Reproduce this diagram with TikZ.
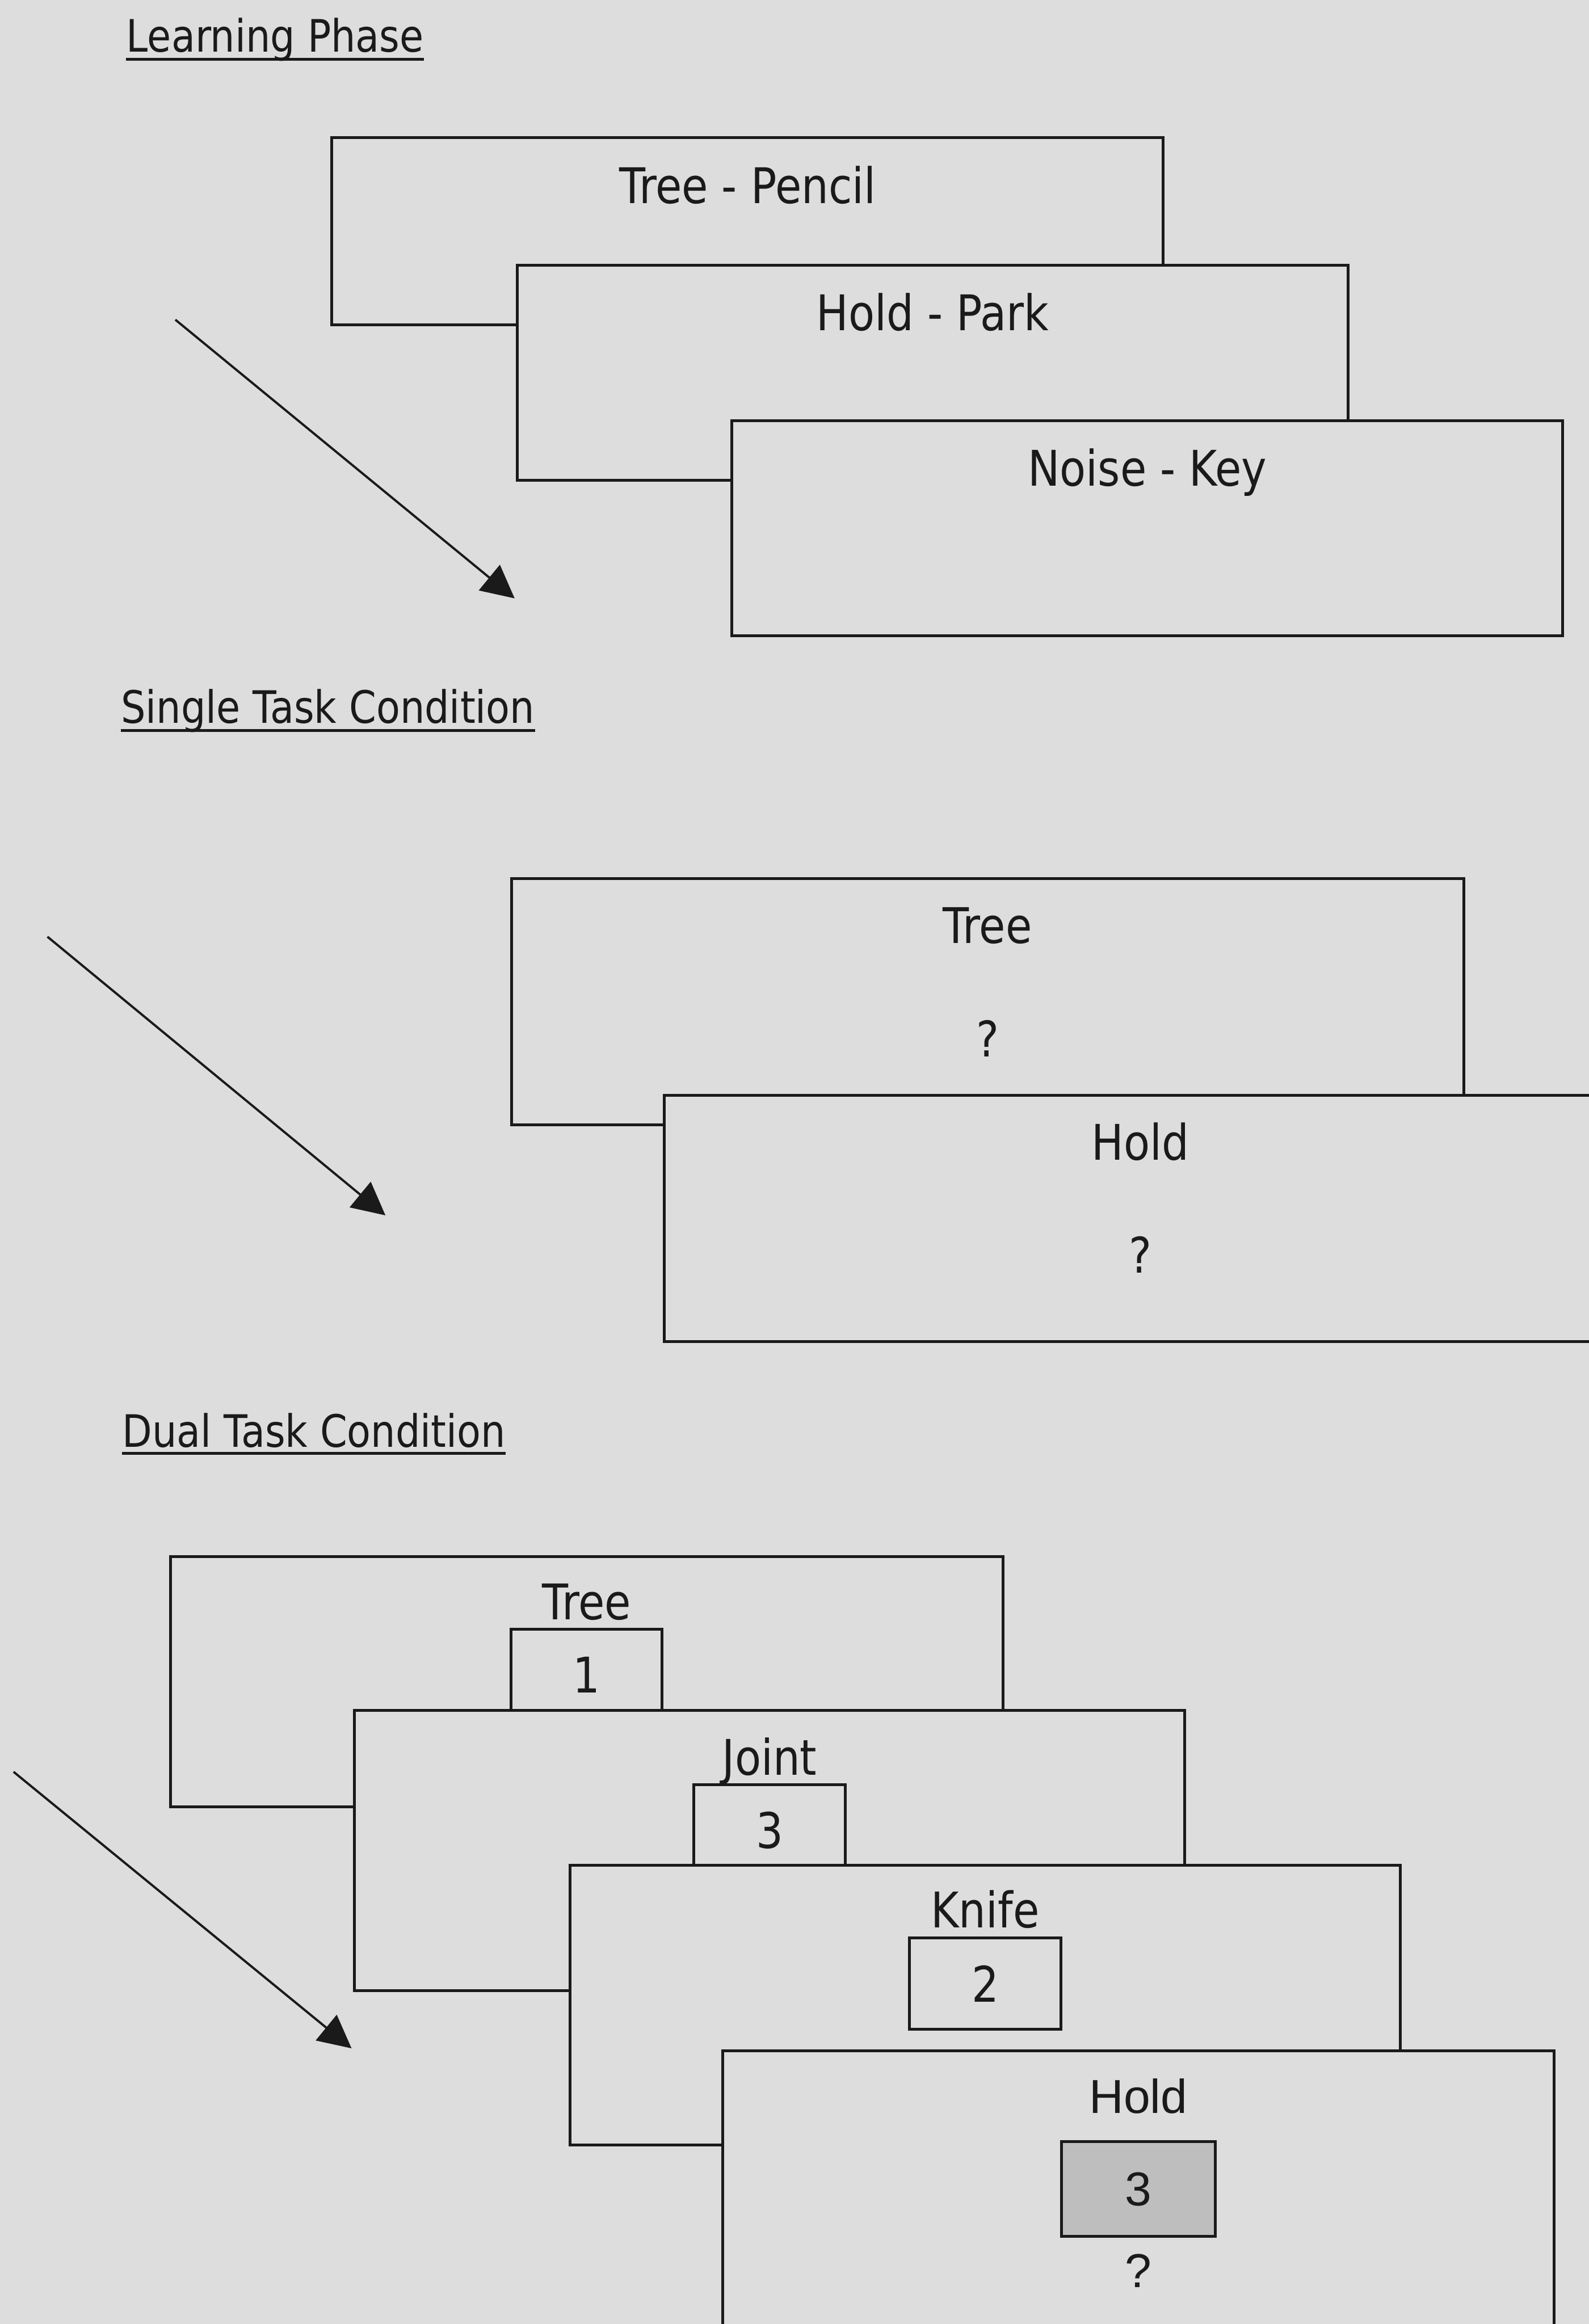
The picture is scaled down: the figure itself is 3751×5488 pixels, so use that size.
\documentclass[tikz,border=0pt]{standalone}
\usepackage{fontspec}
\setmainfont[FakeStretch=0.87]{DejaVu Sans}
\newfontfamily\plainsans{Liberation Sans}
\usetikzlibrary{arrows.meta,calc}
\definecolor{paper}{RGB}{221,221,221}
\definecolor{ink}{RGB}{26,26,26}
\definecolor{shade}{RGB}{190,190,190}

\begin{document}
\begin{tikzpicture}[x=0.01cm,y=-0.01cm,
  card/.style={draw=ink, fill=paper, line width=1.9pt, rectangle, inner sep=0pt, anchor=north west},
  tag/.style={draw=ink, fill=paper, line width=1.9pt, rectangle, inner sep=0pt, anchor=north,
              minimum width=3.57cm, minimum height=2.16cm, text=ink, font=\fontsize{33}{40}\selectfont},
  word/.style={inner sep=0pt, anchor=base, text=ink, font=\fontsize{33}{40}\selectfont},
  head/.style={inner sep=0pt, anchor=base west, text=ink, font=\fontsize{30}{36}\selectfont},
  flow/.style={draw=ink, line width=1.5pt, -{Triangle[length=22pt,width=22pt]}},
  rule/.style={draw=ink, line width=1.6pt}
]
% page
\fill[paper] (0,0) rectangle (3751,5488);
\useasboundingbox (0,0) rectangle (3751,5488);

% ---------------- Learning phase ----------------
\node[head] (t1) at (298,123) {Learning Phase};
\draw[rule] ($(t1.base west)+(0,17)$) -- ($(t1.base east)+(0,17)$);

\node[card, minimum width=19.62cm, minimum height=4.41cm] (lp1) at (780,322) {};
\node[word] (lp1t) at ($(lp1.north)+(0,158)$) {Tree - Pencil};
\node[card, minimum width=19.60cm, minimum height=5.07cm] (lp2) at (1218,623) {};
\node[word] (lp2t) at ($(lp2.north)+(0,158)$) {Hold - Park};
\node[card, minimum width=19.60cm, minimum height=5.08cm] (lp3) at (1725,990) {};
\node[word] (lp3t) at ($(lp3.north)+(0,158)$) {Noise - Key};

\coordinate (f1a) at (414,755);
\coordinate (f1b) at (1215,1413);
\draw[flow] (f1a) -- (f1b);

% ---------------- Single task condition ----------------
\node[head] (t2) at (285,1708) {Single Task Condition};
\draw[rule] ($(t2.base west)+(0,17)$) -- ($(t2.base east)+(0,17)$);

\node[card, minimum width=22.47cm, minimum height=5.81cm] (st1) at (1204,2072) {};
\node[word] (st1t) at ($(st1.north)+(0,156)$) {Tree};
\node[word] (st1q) at ($(st1.north)+(0,423)$) {?};
\node[card, minimum width=22.47cm, minimum height=5.81cm] (st2) at (1565,2583) {};
\node[word] (st2t) at ($(st2.north)+(0,156)$) {Hold};
\node[word] (st2q) at ($(st2.north)+(0,423)$) {?};

\coordinate (f2a) at (112,2212);
\coordinate (f2b) at (910,2870);
\draw[flow] (f2a) -- (f2b);

% ---------------- Dual task condition ----------------
\node[head] (t3) at (288,3417) {Dual Task Condition};
\draw[rule] ($(t3.base west)+(0,15)$) -- ($(t3.base east)+(0,15)$);

\node[card, minimum width=19.64cm, minimum height=5.91cm] (dt1) at (399,3672) {};
\node[word] (dt1t) at ($(dt1.north)+(0,152)$) {Tree};
\node[tag] (dt1n) at ($(dt1.north)+(0,172)$) {1};

\node[card, minimum width=19.60cm, minimum height=6.61cm] (dt2) at (833,4036) {};
\node[word] (dt2t) at ($(dt2.north)+(0,155)$) {Joint};
\node[tag] (dt2n) at ($(dt2.north)+(0,175)$) {3};

\node[card, minimum width=19.58cm, minimum height=6.60cm] (dt3) at (1343,4402) {};
\node[word] (dt3t) at ($(dt3.north)+(0,150)$) {Knife};
\node[tag] (dt3n) at ($(dt3.north)+(0,171)$) {2};

\node[card, minimum width=19.61cm, minimum height=6.60cm] (dt4) at (1703,4840) {};
\node[word, font=\plainsans\fontsize{32}{38}\selectfont] (dt4t) at ($(dt4.north)+(0,150)$) {Hold};
\node[tag, fill=shade, minimum width=3.63cm, minimum height=2.24cm,
      font=\plainsans\fontsize{32}{38}\selectfont] (dt4n) at ($(dt4.north)+(0,214)$) {3};
\node[word, font=\plainsans\fontsize{32}{38}\selectfont] (dt4q) at ($(dt4.north)+(0,562)$) {?};

\coordinate (f3a) at (32,4184);
\coordinate (f3b) at (830,4837);
\draw[flow] (f3a) -- (f3b);
\end{tikzpicture}
\end{document}
